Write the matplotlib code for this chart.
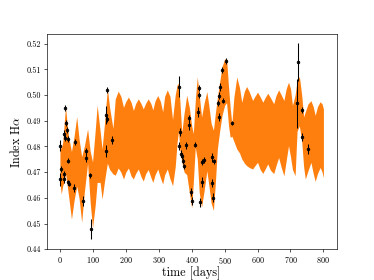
import numpy as np
import matplotlib
matplotlib.use("Agg")
import matplotlib.pyplot as plt

# ─── DATA ────────────────────────────────────────────────────────────────────
# observations: time [days], Halpha index, 1-sigma error
obs_t = [0, 1, 4, 13, 13, 13, 14, 16, 17, 20, 24, 25, 26, 29, 44, 46, 69, 80, 80,
         90, 93, 140, 140, 143, 144, 158,
         360, 363, 365, 368, 371, 375, 376, 383, 391, 393, 397, 401, 409, 420, 421,
         421, 426, 431, 431, 436, 461, 462, 464, 468, 479, 482, 484, 486, 492, 496,
         505, 523, 721, 723, 734, 734, 752]
obs_v = [0.4803, 0.4672, 0.4713, 0.4693, 0.4672, 0.4850, 0.4834, 0.4948, 0.4891,
         0.4863, 0.4661, 0.4830, 0.4744, 0.4655, 0.4638, 0.4817, 0.4588, 0.4781,
         0.4756, 0.4687, 0.4479, 0.4924, 0.4782, 0.4906, 0.5019, 0.4824,
         0.5033, 0.4802, 0.4855, 0.4772, 0.4763, 0.4743, 0.4722, 0.4804, 0.4885,
         0.4911, 0.4622, 0.4587, 0.4807, 0.4935, 0.4999, 0.5026, 0.4583, 0.4661,
         0.4739, 0.4746, 0.4658, 0.4757, 0.4600, 0.4742, 0.4968, 0.4914, 0.4998,
         0.5030, 0.5097, 0.4977, 0.5133, 0.4892, 0.4967, 0.5128, 0.4941, 0.4838,
         0.4790]
obs_e = [0.0022, 0.0025, 0.0012, 0.0012, 0.0015, 0.0012, 0.0012, 0.0012, 0.0012,
         0.0012, 0.0010, 0.0012, 0.0010, 0.0010, 0.0015, 0.0012, 0.0018, 0.0012,
         0.0018, 0.0010, 0.0040, 0.0035, 0.0022, 0.0012, 0.0012, 0.0015,
         0.0040, 0.0015, 0.0015, 0.0015, 0.0012, 0.0012, 0.0008, 0.0015, 0.0020,
         0.0012, 0.0015, 0.0015, 0.0010, 0.0020, 0.0012, 0.0012, 0.0018, 0.0020,
         0.0012, 0.0012, 0.0015, 0.0018, 0.0018, 0.0010, 0.0012, 0.0015, 0.0012,
         0.0015, 0.0012, 0.0010, 0.0012, 0.0008, 0.0097, 0.0073, 0.0012, 0.0015,
         0.0018]

# prediction band (upper / lower envelope)
band_t = [0, 4, 9, 13, 17, 21, 26, 35, 43, 51, 58, 66, 74, 84, 92, 99, 107, 113,
          122, 128, 136, 144, 151, 161,
          168, 177, 185, 193, 200, 208, 216, 223, 230, 238, 246, 253, 260, 268,
          276, 282, 289, 297, 305, 312, 318, 326, 334, 342,
          350, 356, 360, 364, 370, 377, 385, 393, 400, 405, 411, 417, 423, 430,
          438, 446, 452, 459, 466, 472, 478, 485, 492, 500, 506, 512, 517, 522,
          528, 537, 545,
          552, 560, 567, 575, 585, 592, 600, 608, 616, 623, 631, 639, 649, 656,
          664, 672, 680, 687, 694, 700, 706, 714, 720, 727, 734, 740, 745, 753,
          762, 769, 775, 782, 790, 796, 800]
band_hi = [0.4825, 0.4790, 0.4820, 0.4890, 0.4955, 0.4900, 0.4840, 0.4780, 0.4840,
           0.4916, 0.4830, 0.4760, 0.4800, 0.4868, 0.4780, 0.4740, 0.4860, 0.4960,
           0.4860, 0.4790, 0.4900, 0.5025, 0.4950, 0.4870,
           0.4985, 0.5015, 0.4995, 0.4952, 0.4975, 0.4992, 0.4972, 0.4940, 0.4967,
           0.4985, 0.4967, 0.4946, 0.4967, 0.4985, 0.4967, 0.4942, 0.4978, 0.4998,
           0.4975, 0.4935, 0.4995, 0.5020, 0.4995, 0.4905,
           0.5000, 0.5040, 0.5045, 0.4980, 0.4855, 0.4930, 0.4999, 0.4950, 0.4880,
           0.4850, 0.4980, 0.5071, 0.5000, 0.4915, 0.4970, 0.5013, 0.4960, 0.4890,
           0.4863, 0.4930, 0.4990, 0.5050, 0.5110, 0.5140, 0.5140, 0.5030, 0.4950,
           0.4888, 0.4990, 0.5070, 0.5030,
           0.4972, 0.5015, 0.5033, 0.5012, 0.4979, 0.4995, 0.5011, 0.4993, 0.4972,
           0.4990, 0.5007, 0.4990, 0.4966, 0.4998, 0.5020, 0.5000, 0.4979, 0.5025,
           0.5050, 0.5025, 0.4960, 0.5000, 0.5055, 0.5072, 0.5000, 0.4915, 0.4935,
           0.4965, 0.4978, 0.4955, 0.4921, 0.4955, 0.4974, 0.4965, 0.4946]
band_lo = [0.4660, 0.4615, 0.4650, 0.4660, 0.4695, 0.4660, 0.4610, 0.4517, 0.4590,
           0.4645, 0.4600, 0.4505, 0.4620, 0.4735, 0.4580, 0.4484, 0.4570, 0.4660,
           0.4660, 0.4595, 0.4670, 0.4735, 0.4710, 0.4693,
           0.4688, 0.4716, 0.4700, 0.4673, 0.4700, 0.4716, 0.4685, 0.4673, 0.4695,
           0.4712, 0.4683, 0.4665, 0.4693, 0.4710, 0.4680, 0.4660, 0.4690, 0.4712,
           0.4678, 0.4654, 0.4690, 0.4712, 0.4675, 0.4647,
           0.4720, 0.4820, 0.4860, 0.4790, 0.4740, 0.4700, 0.4690, 0.4620, 0.4561,
           0.4660, 0.4797, 0.4750, 0.4620, 0.4564, 0.4630, 0.4705, 0.4650, 0.4580,
           0.4551, 0.4660, 0.4790, 0.4860, 0.4920, 0.4960, 0.4970, 0.4880, 0.4835,
           0.4840, 0.4820, 0.4790, 0.4775,
           0.4752, 0.4735, 0.4725, 0.4718, 0.4712, 0.4725, 0.4738, 0.4710, 0.4695,
           0.4712, 0.4732, 0.4708, 0.4694, 0.4725, 0.4757, 0.4718, 0.4686, 0.4745,
           0.4803, 0.4760, 0.4710, 0.4686, 0.4860, 0.4880, 0.4820, 0.4720, 0.4673,
           0.4705, 0.4738, 0.4695, 0.4664, 0.4695, 0.4718, 0.4700, 0.4678]

# ─── STYLE ───────────────────────────────────────────────────────────────────
plt.rcParams.update({
    "font.family": "serif",
    "font.serif": ["cmr10"],
    "mathtext.fontset": "cm",
    "axes.formatter.use_mathtext": True,
    "axes.unicode_minus": False,
})
ORANGE = "#ff7f0e"

DPI = 58.4375
fig, ax = plt.subplots(figsize=(374 / DPI, 280 / DPI), dpi=DPI)

ax.fill_between(band_t, band_lo, band_hi, color=ORANGE, lw=0)
ax.errorbar(obs_t, obs_v, yerr=obs_e, fmt="o", color="k", ms=3.2,
            elinewidth=1.3, capsize=0)

ax.set_xlim(-40, 840)
ax.set_ylim(0.44, 0.5239)
ax.set_xticks(np.arange(0, 801, 100))
ax.set_yticks(np.arange(0.44, 0.5201, 0.01))
ax.set_yticklabels([f"{v:.2f}" for v in np.arange(0.44, 0.5201, 0.01)])
ax.tick_params(labelsize=10)
ax.set_xlabel("time [days]", fontsize=15, labelpad=1)
ax.set_ylabel(r"Index H$\alpha$", fontsize=15)

fig.savefig("out.png", dpi=DPI)
